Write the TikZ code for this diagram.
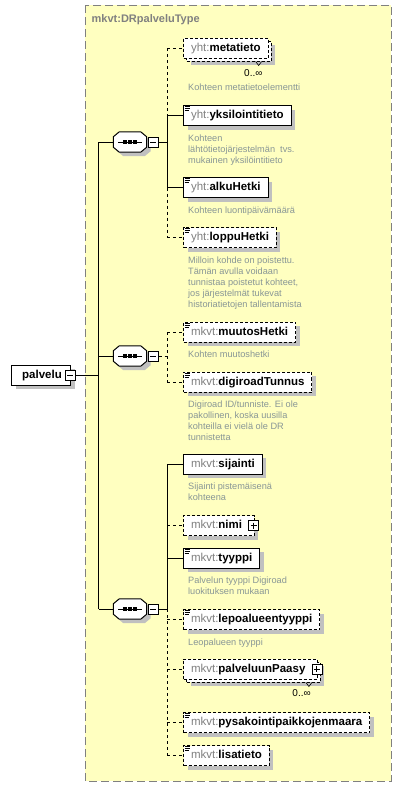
\documentclass[tikz,border=0pt]{standalone}
\usepackage{fontspec}
\setmainfont{Liberation Sans}
\usetikzlibrary{positioning,shadows,calc}
\definecolor{frameln}{HTML}{808080}
\definecolor{framebg}{HTML}{FFFFC0}
\definecolor{shadowgray}{HTML}{C0C0C0}
\definecolor{nsgray}{HTML}{808080}
\definecolor{doctext}{HTML}{889696}
\newcommand{\elfont}{\bfseries\fontsize{11.5}{13}\selectfont}
\newcommand{\ns}[1]{{\mdseries\color{nsgray}#1}}
\tikzset{
  elbox/.style={rectangle,draw=black,fill=white,line width=1pt,inner xsep=7.5pt,
    inner ysep=0pt,minimum height=20pt,text height=8.5pt,text depth=2.5pt,
    anchor=west,font=\elfont},
  boxshadow/.style={drop shadow={shadow xshift=4pt,shadow yshift=-4pt,
    fill=shadowgray,opacity=1}},
  el/.style={elbox,boxshadow},
  opt/.style={dash pattern=on 3pt off 2pt},
  seqnode/.style={rectangle,minimum width=33pt,minimum height=20pt,inner sep=0pt},
  tog/.style={rectangle,draw=black,fill=white,line width=0.8pt,minimum size=10pt,
    inner sep=0pt,path picture={\draw[line width=0.9pt]
      ([xshift=2pt]path picture bounding box.west) --
      ([xshift=-2pt]path picture bounding box.east);}},
  togplus/.style={tog,path picture={\draw[line width=0.9pt]
      ([xshift=2pt]path picture bounding box.west) --
      ([xshift=-2pt]path picture bounding box.east)
      ([yshift=-2pt]path picture bounding box.north) --
      ([yshift=2pt]path picture bounding box.south);}},
  desc/.style={align=left,inner sep=0pt,text=doctext,font=\fontsize{9.2}{11}\selectfont},
  mult/.style={inner sep=0pt,font=\fontsize{10}{12}\selectfont},
  ttl/.style={inner sep=0pt,text=frameln,font=\bfseries\fontsize{11}{13}\selectfont},
  typeframe/.style={draw=frameln,fill=framebg,line width=1pt,dash pattern=on 8pt off 4pt},
  link/.style={line width=1pt,draw=black},
  linkopt/.style={link,dash pattern=on 3pt off 3pt},
  icon/.style={line width=0.8pt,draw=black},
}
% octagon of a sequence compositor, drawn round an empty node
\newcommand{\seqshape}[1]{%
  \path[draw=black,fill=white,line width=1pt,boxshadow]
    ([xshift=6pt]#1.north west) -- ([xshift=-6pt]#1.north east)
    -- ([yshift=-5pt]#1.north east) -- ([yshift=5pt]#1.south east)
    -- ([xshift=-6pt]#1.south east) -- ([xshift=6pt]#1.south west)
    -- ([yshift=5pt]#1.south west) -- ([yshift=-5pt]#1.north west) -- cycle;
  \draw[line width=1pt] ([xshift=-12pt]#1.center) -- ([xshift=12pt]#1.center);
  \foreach \dx in {-5,0,5}
    \fill ([shift={(\dx-1.75,-1.75)}]#1.center) rectangle ++(3.5,3.5);
}

\begin{document}
\begin{tikzpicture}[x=1pt,y=-1pt]
  \useasboundingbox (0,0) rectangle (402,787);
  \draw[typeframe] (85,5) rectangle (391,781);
  \node[ttl,anchor=west] (ttl) at (91.5,19.5) {mkvt:DRpalveluType};

  % root element
  \node[el,minimum width=59pt] (palv) at (11,375) {\hspace*{2pt}palvelu};
  \node[tog] (palvm) at ([xshift=-1pt]palv.east) {};

  % compositors
  \node[seqnode] (s1) at (130,142) {};
  \node[seqnode] (s2) at (130,356) {};
  \node[seqnode] (s3) at (130,609) {};
  \foreach \s in {s1,s2,s3} {
    \seqshape{\s}
    \node[tog,right=1pt of \s] (\s m) {};
  }

  % first sequence
  \node[el,opt] (metab) at (186,51) {\phantom{\ns{yht:}metatieto}};
  \node[elbox,opt] (meta) at (183,48) {\ns{yht:}metatieto};
  \node[mult,below left=8pt and 9pt of metab.south east] (metan) {0..∞};
  \draw[line width=0.6pt] ([xshift=-16pt]metab.south east) -- ++(3,4) -- ++(3,-4);
  \node[desc,below right=25pt and 5pt of meta.south west] (metad) {Kohteen metatietoelementti};

  \node[el] (yks) at (183,115.5) {\ns{yht:}yksilointitieto};
  \node[desc,below right=8.5pt and 5pt of yks.south west] (yksd)
    {Kohteen\\lähtötietojärjestelmän\ \ tvs.\\mukainen yksilöintitieto};

  \node[el] (alku) at (183,187.5) {\ns{yht:}alkuHetki};
  \node[desc,below right=8.5pt and 5pt of alku.south west] (alkud) {Kohteen luontipäivämäärä};

  \node[el,opt] (loppu) at (183,237.5) {\ns{yht:}loppuHetki};
  \node[desc,below right=8.5pt and 5pt of loppu.south west] (loppud)
    {Milloin kohde on poistettu.\\Tämän avulla voidaan\\tunnistaa poistetut kohteet,\\jos järjestelmät tukevat\\historiatietojen tallentamista};

  % second sequence
  \node[el,opt] (muutos) at (183,332) {\ns{mkvt:}muutosHetki};
  \node[desc,below right=8.5pt and 5pt of muutos.south west] (muutosd) {Kohten muutoshetki};

  \node[el,opt] (digi) at (183,382) {\ns{mkvt:}digiroadTunnus};
  \node[desc,below right=8.5pt and 5pt of digi.south west] (digid)
    {Digiroad ID/tunniste. Ei ole\\pakollinen, koska uusilla\\kohteilla ei vielä ole DR\\tunnistetta};

  % third sequence
  \node[el] (sij) at (183,464) {\ns{mkvt:}sijainti};
  \node[desc,below right=8.5pt and 5pt of sij.south west] (sijd) {Sijainti pistemäisenä\\kohteena};

  \node[el,opt] (nimi) at (183,525.5) {\ns{mkvt:}nimi\hspace*{4.5pt}};
  \node[togplus] (nimip) at ([xshift=-1pt]nimi.east) {};

  \node[el] (tyyppi) at (183,558) {\ns{mkvt:}tyyppi};
  \node[desc,below right=8.5pt and 5pt of tyyppi.south west] (tyyppid)
    {Palvelun tyyppi Digiroad\\luokituksen mukaan};

  \node[el,opt] (lepo) at (183,619.5) {\ns{mkvt:}lepoalueentyyppi};
  \node[desc,below right=8.5pt and 5pt of lepo.south west] (lepod) {Leopalueen tyyppi};

  \node[el,opt] (paasyb) at (186,672) {\phantom{\ns{mkvt:}palveluunPaasy\hspace*{4.5pt}}};
  \node[elbox,opt] (paasy) at (183,669) {\ns{mkvt:}palveluunPaasy\hspace*{4.5pt}};
  \node[togplus] (paasyp) at ([xshift=-1pt]paasy.east) {};
  \node[mult,below left=7pt and 10pt of paasyb.south east] (paasyn) {0..∞};
  \draw[line width=0.6pt] ([xshift=-15pt]paasyb.south east) -- ++(3,4) -- ++(3,-4);

  \node[el,opt] (pysak) at (183,722.5) {\ns{mkvt:}pysakointipaikkojenmaara};
  \node[el,opt] (lisa) at (183,755.5) {\ns{mkvt:}lisatieto};

  % documentation marks
  \foreach \e in {yks,alku,loppu,muutos,digi,tyyppi,lepo,pysak,lisa}
    \draw[icon] ([shift={(1.5,1.5)}]\e.north west) -- ++(5,0)
      ([shift={(1.5,3.5)}]\e.north west) -- ++(5,0)
      ([shift={(1.5,5.5)}]\e.north west) -- ++(4,0);

  % connectors
  \coordinate (trunk) at (98.5,375);
  \coordinate (fork) at (167,0);
  \draw[link] (palvm.east) -- (trunk);
  \draw[link] (s1.west -| trunk) -- (s3.west -| trunk);
  \foreach \s in {s1,s2,s3}
    \draw[link] (\s.west -| trunk) -- (\s.west);

  \draw[link] (s1m.east) -- (s1m.east -| fork);
  \draw[linkopt] (meta.west -| fork) -- (yks.west -| fork);
  \draw[link] (yks.west -| fork) -- (alku.west -| fork);
  \draw[linkopt] (alku.west -| fork) -- (loppu.west -| fork);

  \draw[linkopt] (s2m.east) -- (s2m.east -| fork);
  \draw[linkopt] (muutos.west -| fork) -- (digi.west -| fork);

  \draw[link] (s3m.east) -- (s3m.east -| fork);
  \draw[link] (sij.west -| fork) -- (s3m.east -| fork);
  \draw[linkopt] (s3m.east -| fork) -- (lisa.west -| fork);

  \foreach \e in {yks,alku,sij,tyyppi}
    \draw[link] (\e.west -| fork) -- (\e.west);
  \foreach \e in {meta,loppu,muutos,digi,nimi,lepo,paasy,pysak,lisa}
    \draw[linkopt] (\e.west -| fork) -- (\e.west);
\end{tikzpicture}
\end{document}
